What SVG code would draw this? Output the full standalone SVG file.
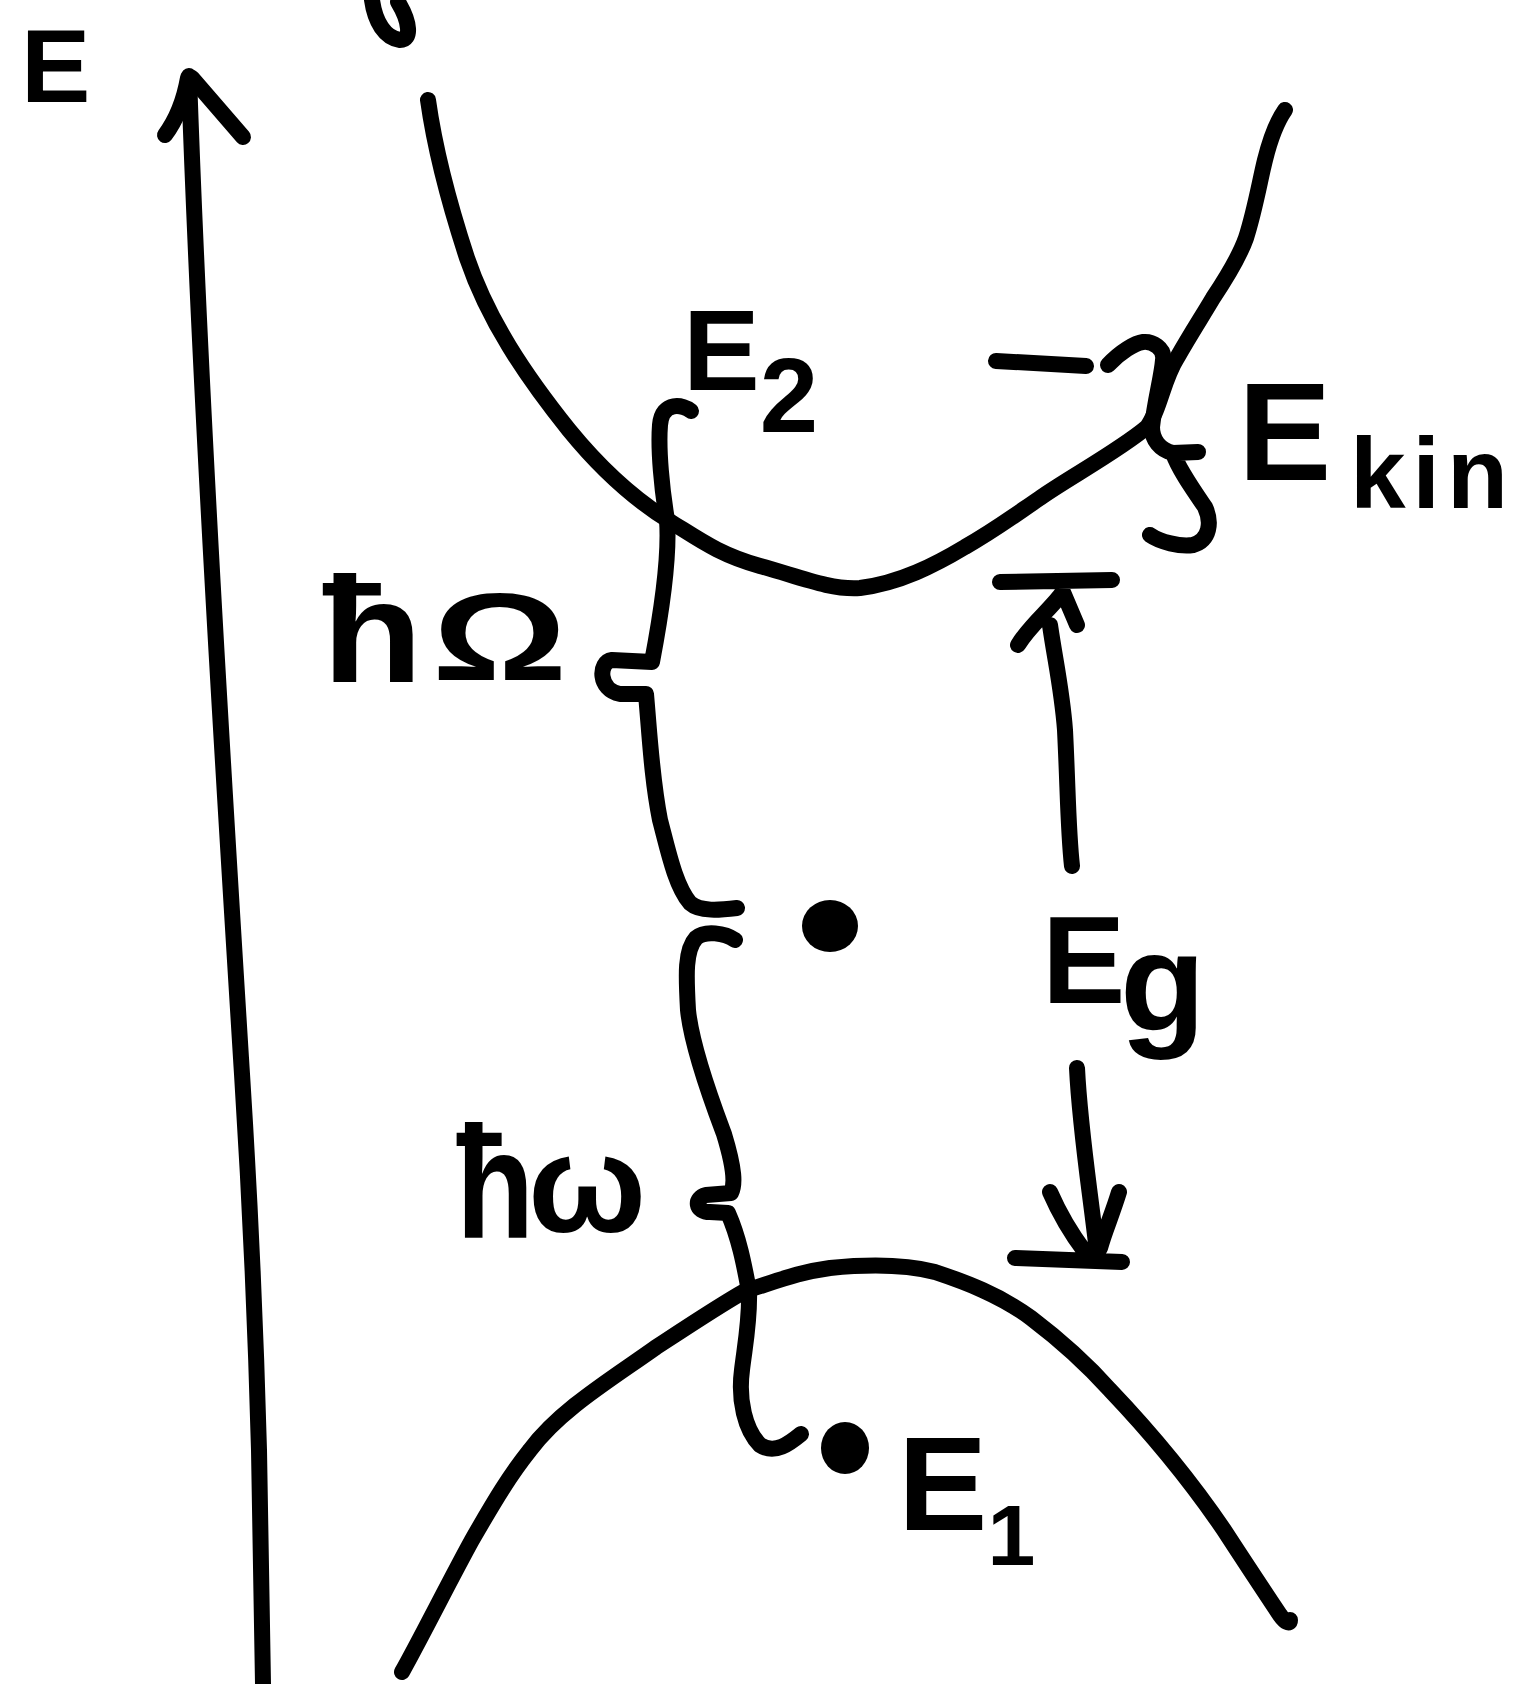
<svg xmlns="http://www.w3.org/2000/svg" width="1513" height="1684" viewBox="0 0 1513 1684">
<style>
.s{fill:none;stroke:#000;stroke-width:16;stroke-linecap:round;stroke-linejoin:round}
.t{font-family:"Liberation Sans",Arial,sans-serif;font-weight:bold;fill:#000}
.d{fill:#000}
</style>
<rect width="1513" height="1684" fill="#fff"/>
<g id="axis">
<path class="s" d="M189,76 C200,400 225,800 242,1074 C250,1200 255,1300 259,1450 L263,1684"/>
<path class="s" d="M188,78 Q182,112 165,135"/>
<path class="s" d="M192,78 L243,137"/>
<text class="t" x="21" y="102" font-size="104">E</text>
</g>
<g id="fragment">
<path class="s" d="M372,0 C375,22 385,38 400,40 C412,40 410,22 398,2"/>
</g>
<g id="conduction-band">
<path class="s" d="M428,100 C435,150 448,200 467,258 C488,320 525,375 569,430 C600,468 635,500 671,522 C700,540 720,555 760,566 C800,577 830,590 860,588 C900,583 935,565 965,547 C995,530 1015,515 1040,498 C1065,480 1120,450 1147,427 C1160,410 1163,380 1177,358 C1190,335 1203,315 1213,298 C1225,280 1240,255 1246,238 C1255,210 1260,180 1265,160 C1270,140 1278,120 1285,110"/>
</g>
<g id="valence-band">
<path class="s" d="M402,1672 C420,1640 450,1580 472,1540 C495,1500 510,1475 530,1450 C560,1410 610,1380 655,1348 C690,1325 720,1305 745,1291 C780,1280 800,1272 830,1268 C860,1265 900,1263 935,1272 C965,1282 1000,1295 1031,1318 C1060,1340 1085,1362 1110,1390 C1150,1432 1190,1480 1224,1530 C1250,1570 1270,1600 1280,1615 C1285,1622 1290,1625 1290,1620"/>
</g>
<g id="connectors">
<path id="brace-hOmega" class="s" d="M691,411 C684,405 662,400 660,425 C658,450 662,490 667,520 C670,560 660,620 652,662 L612,660 C598,662 598,690 620,694 L646,694 C650,740 652,780 660,820 C668,850 675,885 690,903 C700,912 720,910 737,908"/>
<path id="brace-homega" class="s" d="M735,940 C725,933 705,930 696,938 C685,950 686,975 688,1010 C692,1050 715,1110 724,1134 C735,1170 735,1185 731,1193 L706,1195 C694,1198 695,1212 710,1212 L728,1213 C740,1240 745,1270 749,1291 C750,1320 745,1345 742,1370 C738,1400 745,1430 760,1445 C775,1455 790,1443 801,1434"/>
<path id="brace-ekin" class="s" d="M1108,365 C1120,352 1135,343 1143,342 C1152,341 1165,348 1163,360 C1162,375 1155,400 1152,427 C1152,440 1160,450 1173,453 L1198,452 M1173,453 C1178,468 1192,488 1205,507 C1212,522 1210,540 1193,545 C1180,547 1160,542 1150,535"/>
<path id="ekin-level" class="s" d="M996,361 L1086,366"/>
<path id="eg-up" class="s" d="M1000,582 L1112,580 M1063,592 C1050,610 1030,625 1018,645 M1063,592 L1077,625 M1050,625 C1055,660 1062,690 1065,730 C1068,790 1068,830 1072,866"/>
<path id="eg-down" class="s" d="M1077,1068 C1080,1130 1090,1190 1097,1252 M1050,1192 C1060,1215 1070,1232 1085,1252 M1119,1192 C1112,1215 1105,1230 1100,1248 M1015,1258 L1122,1262"/>
</g>
<g id="dots">
<ellipse class="d" cx="830" cy="926" rx="28" ry="26"/>
<ellipse class="d" cx="845" cy="1448" rx="24" ry="26"/>
</g>
<g id="labels">
<text id="label-E2" class="t" x="683" y="390" font-size="115">E<tspan dy="42" font-size="105">2</tspan></text>
<g id="label-Ekin">
<text class="t" x="1238" y="480" font-size="140">E</text>
<text class="t" x="1350" y="508" font-size="100" textLength="158" lengthAdjust="spacing">kin</text>
</g>
<g id="label-hOmega">
<text class="t" transform="translate(322,682) scale(1.1,1)" font-size="150">ħ</text>
<text class="t" transform="translate(432,680) scale(1.35,1)" font-size="125">Ω</text>
</g>
<g id="label-homega">
<text class="t" transform="translate(456,1238) scale(0.8,1)" font-size="160">ħ</text>
<text class="t" x="528" y="1232" font-size="140">ω</text>
</g>
<g id="label-Eg">
<text class="t" x="1042" y="1003" font-size="125">E</text>
<text class="t" x="1120" y="1030" font-size="140">g</text>
</g>
<text id="label-E1" class="t" x="898" y="1530" font-size="134">E<tspan dy="35" font-size="86">1</tspan></text>
</g>
</svg>
